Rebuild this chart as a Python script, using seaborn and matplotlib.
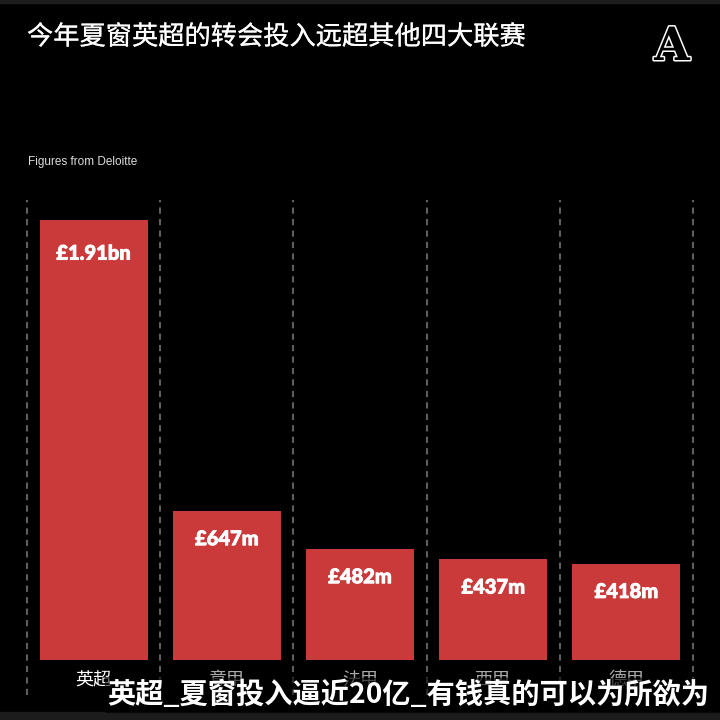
import matplotlib
matplotlib.use("Agg")
import matplotlib.pyplot as plt
import matplotlib.patheffects as pe
from matplotlib.patches import Rectangle
import seaborn as sns
import numpy as np

leagues = ["英超", "意甲", "法甲", "西甲", "德甲"]
spend_m = [1910, 647, 482, 437, 418]
value_labels = ["£1.91bn", "£647m", "£482m", "£437m", "£418m"]
title = "今年夏窗英超的转会投入远超其他四大联赛"
source = "Figures from Deloitte"
subtitle = "英超_夏窗投入逼近20亿_有钱真的可以为所欲为"

RED = "#cb3a3b"
sns.set_theme(style="dark")
plt.rcParams["font.family"] = ["Noto Sans CJK SC", "DejaVu Sans"]

fig = plt.figure(figsize=(7.2, 7.2), dpi=100, facecolor="black")
ax = fig.add_axes([27/720, 60/720, 666/720, 460/720])
ax.set_facecolor("black")

sns.barplot(x=leagues, y=spend_m, color=RED, saturation=1, width=0.81,
            linewidth=0, edgecolor=RED, ax=ax)
ax.set_xlim(-0.5, 4.5)
ax.set_ylim(0, 1996)
for s in ax.spines.values():
    s.set_visible(False)
ax.set_yticks([])
ax.set_xlabel("")
ax.set_ylabel("")
ax.grid(False)
ax.tick_params(axis="x", length=0, pad=8, labelsize=13)
for i, t in enumerate(ax.get_xticklabels()):
    t.set_color("white" if i == 0 else "#aaaaaa")
    t.set_family(["Noto Sans CJK SC", "DejaVu Sans"])

for b in np.arange(-0.5, 5.0, 1.0):
    ax.plot([b, b], [-152, 1996], ls=(0, (3, 2.5)), color="#5e5e5e",
            lw=1.5, clip_on=False, zorder=0)

for i, (v, lab) in enumerate(zip(spend_m, value_labels)):
    off = -24 if i == 0 else -20
    ax.annotate(lab, (i, v), xytext=(0, off), textcoords="offset points",
                ha="center", va="center", color="white", fontsize=14.5,
                fontweight=900, family=["Lato", "DejaVu Sans"],
                path_effects=[pe.Stroke(linewidth=0.6, foreground="white"), pe.Normal()])

fig.text(27/720, 1 - 37/720, title, color="white", fontsize=18.9,
         va="center", ha="left", family=["Noto Sans CJK SC", "DejaVu Sans"],
         path_effects=[pe.Stroke(linewidth=0.15, foreground="white"), pe.Normal()])
fig.text(28/720, 1 - 162/720, source, color="#dddddd", fontsize=8.5,
         va="center", ha="left", family=["Liberation Sans Narrow", "Liberation Sans", "DejaVu Sans"])

# logo
fig.text(672/720, 1 - 47/720, "A", color="black", fontsize=33, fontweight="bold",
         va="center", ha="center", family=["DejaVu Serif"],
         path_effects=[pe.Stroke(linewidth=2.2, foreground="white"), pe.Normal()])

# bottom strip and subtitle overlay
fig.add_artist(Rectangle((0, 0), 1, 8/720, transform=fig.transFigure,
                         color="#1c1c1c", zorder=5))
fig.add_artist(Rectangle((0, 717/720), 1, 3/720, transform=fig.transFigure,
                         color="#1c1c1c", zorder=5))
fig.add_artist(Rectangle((105/720, 8/720), 615/720, 34/720, transform=fig.transFigure,
                         color="black", alpha=0.55, zorder=6))
fig.text(107/720, 1 - 695/720, subtitle, color="white", fontsize=20.3,
         fontweight="bold", va="center", ha="left", zorder=7,
         family=["Noto Sans CJK SC", "DejaVu Sans"])

fig.savefig("out.png", dpi=100, facecolor="black")
